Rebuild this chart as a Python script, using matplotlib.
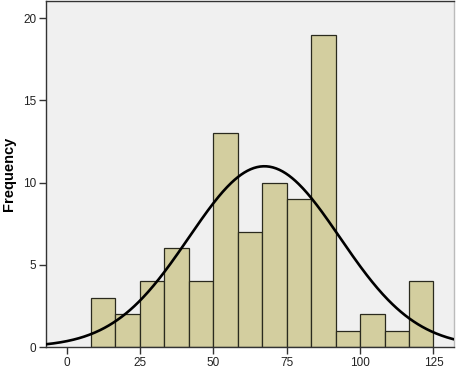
import numpy as np
import matplotlib.pyplot as plt

plt.rcParams['font.family'] = ['Liberation Sans', 'DejaVu Sans']

# histogram bins (width 25/3) and counts
bin_lo = 25 / 3
bin_width = 25 / 3
counts = [3, 2, 4, 6, 4, 13, 7, 10, 9, 19, 1, 2, 1, 4]

# normal curve parameters (SPSS overlay)
mean = 67.4
sd = 25.7

edges = bin_lo + bin_width * np.arange(len(counts))
n = sum(counts)

fig = plt.figure(figsize=(4.57, 3.71), dpi=100)
ax = fig.add_axes([46 / 457, 24 / 371, 408 / 457, 346 / 371])
ax.set_facecolor('#F0F0F0')

ax.bar(edges, counts, width=bin_width, align='edge',
       color='#D3CE9F', edgecolor='#2A2A1E', linewidth=0.9, zorder=2)

xs = np.linspace(-10, 135, 400)
ys = n * bin_width / (sd * np.sqrt(2 * np.pi)) * np.exp(-0.5 * ((xs - mean) / sd) ** 2)
ax.plot(xs, ys, color='black', linewidth=1.9, zorder=3)

ax.set_xlim(-7, 132)
ax.set_ylim(0, 21.05)
ax.set_xticks([0, 25, 50, 75, 100, 125])
ax.set_yticks([0, 5, 10, 15, 20])
ax.tick_params(axis='both', direction='out', length=5, width=1, color='#333333',
               labelsize=8.5, labelcolor='#222222', pad=2)
ax.set_ylabel('Frequency', fontsize=10.5, fontweight='bold', labelpad=5)

for side in ['left', 'bottom', 'top', 'right']:
    ax.spines[side].set_color('#333333')
    ax.spines[side].set_linewidth(1)
ax.spines['right'].set_color('#BBBBBB')

fig.savefig('out.png', dpi=100)
plt.close()
